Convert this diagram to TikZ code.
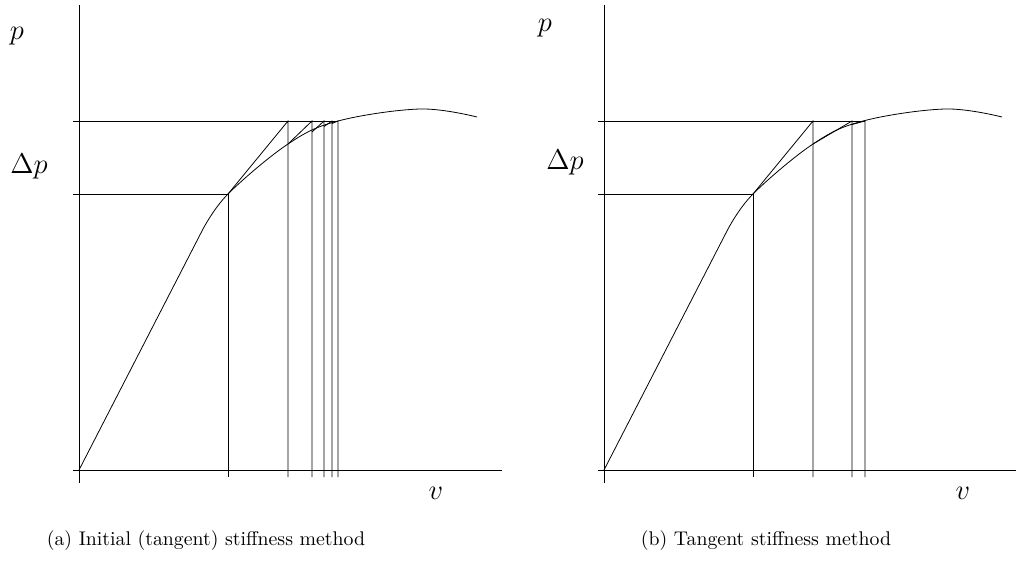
\documentclass[tikz,border=0pt]{standalone}
\usepackage{amsmath}
\usepackage{tikz}
\begin{document}
\begin{tikzpicture}[x=0.505pt,y=-0.505pt,line width=0.4pt]
\useasboundingbox (0,0) rectangle (1016,561);
% (a) initial (tangent) stiffness
% axes
\draw (79,5) -- (79,483);
\draw (73,470) -- (502,470);
% load levels
\draw (73,121) -- (338,121);
\draw (73,194) -- (228,194);
% load-displacement curve
\draw (79,470) -- plot[smooth,tension=0.6] coordinates
  {(203,229) (228,194) (288,144) (338,121) (420,109) (477,117)};
% iterations
\draw (228,194) -- (228,477);
\draw (228,194) -- (288,121) -- (288,477);
\draw (288,144) -- (312,121) -- (312,477);
\draw (312,132) -- (324,121) -- (324,477);
\draw (324,126.5) -- (332,121) -- (332,477);
\draw (332,123.5) -- (338,121) -- (338,477);
\node (pa) at (17,36) {\Large $p$};
\node (dpa) at (29,167) {\Large $\Delta p$};
\node (va) at (436,493) {\Large $v$};
\node (capa) at (206,541) {(a) Initial (tangent) stiffness method};
% (b) tangent stiffness
\begin{scope}[shift={(525,0)}]
\draw (79,5) -- (79,483);
\draw (73,470) -- (502,470);
\draw (73,121) -- (340,121);
\draw (73,194) -- (228,194);
\draw (79,470) -- plot[smooth,tension=0.6] coordinates
  {(203,229) (228,194) (288,144) (338,121) (420,109) (477,117)};
\draw (228,194) -- (228,477);
\draw (228,194) -- (288,121) -- (288,477);
\draw (288,144) -- (327,121) -- (327,477);
\draw (327,124.5) -- (340,121) -- (340,477);
\node (pb) at (20,28) {\Large $p$};
\node (dpb) at (40,163) {\Large $\Delta p$};
\node (vb) at (438,493) {\Large $v$};
\node (capb) at (241,541) {(b) Tangent stiffness method};
\end{scope}
\end{tikzpicture}
\end{document}
